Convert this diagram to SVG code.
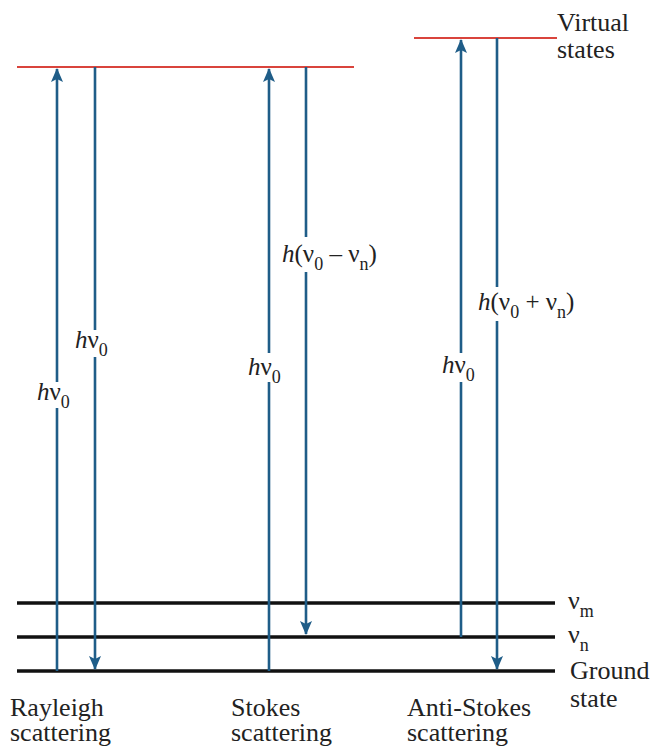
<svg xmlns="http://www.w3.org/2000/svg" width="654" height="747" viewBox="0 0 654 747">
<style>
.lvl{stroke:#111;stroke-width:3.5;fill:none}
.virt{stroke:#d9443c;stroke-width:2.2;fill:none}
.arr{stroke:#1f5d88;stroke-width:2.6;fill:none}
.t{font-family:"Liberation Serif","Times New Roman",serif;font-size:26px;fill:#222}
.e{font-family:"Liberation Serif","Times New Roman",serif;font-size:25px;fill:#222}
.gap{fill:#fff}
</style>
<defs>
<marker id="ah" viewBox="0 0 14 12" refX="13" refY="6" markerWidth="14" markerHeight="12" markerUnits="userSpaceOnUse" orient="auto">
<path d="M0,0 L14,6 L0,12 L3,6 Z" fill="#1f5d88"/>
</marker>
</defs>
<rect width="654" height="747" fill="#fff"/>
<g id="virtual-level-1"><line class="virt" x1="17" y1="67" x2="354" y2="67"/></g>
<g id="virtual-level-2"><line class="virt" x1="414" y1="38" x2="557" y2="38"/>
<text class="t" x="557" y="31">Virtual</text><text class="t" x="557" y="58">states</text></g>
<g id="level-vm"><line class="lvl" x1="17" y1="603" x2="555" y2="603"/>
<text class="t" x="568" y="609">ν<tspan font-size="18" dy="8">m</tspan></text></g>
<g id="level-vn"><line class="lvl" x1="17" y1="637" x2="555" y2="637"/>
<text class="t" x="568" y="643">ν<tspan font-size="18" dy="8">n</tspan></text></g>
<g id="level-ground"><line class="lvl" x1="17" y1="671" x2="555" y2="671"/>
<text class="t" x="570" y="679">Ground</text><text class="t" x="570" y="707">state</text></g>
<g id="connectors">
<line class="arr" x1="57" y1="671" x2="57" y2="69" marker-end="url(#ah)"/>
<line class="arr" x1="95" y1="67" x2="95" y2="669" marker-end="url(#ah)"/>
<line class="arr" x1="269" y1="671" x2="269" y2="69" marker-end="url(#ah)"/>
<line class="arr" x1="306" y1="67" x2="306" y2="634" marker-end="url(#ah)"/>
<line class="arr" x1="461" y1="637" x2="461" y2="40" marker-end="url(#ah)"/>
<line class="arr" x1="497" y1="38" x2="497" y2="669" marker-end="url(#ah)"/>
</g>
<g id="label-rayleigh-up"><rect class="gap" x="48" y="382" width="18" height="26"/>
<text class="e" x="37" y="400"><tspan font-style="italic">h</tspan>ν<tspan font-size="18" dy="8">0</tspan></text></g>
<g id="label-rayleigh-down"><rect class="gap" x="86" y="330" width="18" height="27"/>
<text class="e" x="75" y="348"><tspan font-style="italic">h</tspan>ν<tspan font-size="18" dy="8">0</tspan></text></g>
<g id="label-stokes-up"><rect class="gap" x="260" y="353" width="18" height="29"/>
<text class="e" x="248" y="375"><tspan font-style="italic">h</tspan>ν<tspan font-size="18" dy="8">0</tspan></text></g>
<g id="label-stokes-down"><rect class="gap" x="297" y="237" width="18" height="35"/>
<text class="e" x="282" y="262"><tspan font-style="italic">h</tspan>(ν<tspan font-size="18" dy="8">0</tspan><tspan dy="-8"> – ν</tspan><tspan font-size="18" dy="8">n</tspan><tspan dy="-8">)</tspan></text></g>
<g id="label-antistokes-up"><rect class="gap" x="452" y="353" width="18" height="29"/>
<text class="e" x="442" y="373"><tspan font-style="italic">h</tspan>ν<tspan font-size="18" dy="8">0</tspan></text></g>
<g id="label-antistokes-down"><rect class="gap" x="488" y="287" width="18" height="34"/>
<text class="e" x="478" y="310"><tspan font-style="italic">h</tspan>(ν<tspan font-size="18" dy="8">0</tspan><tspan dy="-8"> + ν</tspan><tspan font-size="18" dy="8">n</tspan><tspan dy="-8">)</tspan></text></g>
<g id="caption-rayleigh"><text class="t" x="10" y="716">Rayleigh</text><text class="t" x="10" y="741">scattering</text></g>
<g id="caption-stokes"><text class="t" x="231" y="716">Stokes</text><text class="t" x="231" y="741">scattering</text></g>
<g id="caption-antistokes"><text class="t" x="407" y="716">Anti-Stokes</text><text class="t" x="407" y="741">scattering</text></g>
</svg>
